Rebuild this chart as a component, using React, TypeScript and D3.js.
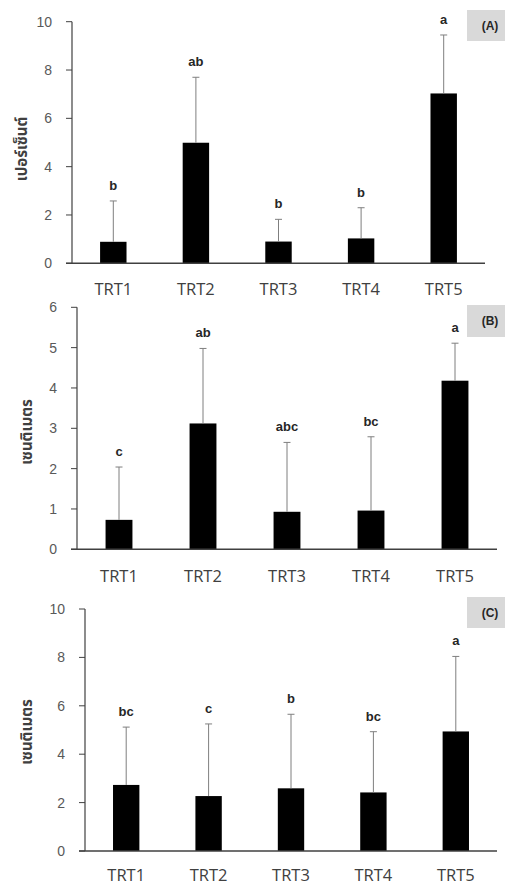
import { useEffect, useRef } from 'react';
import * as d3 from 'd3';

const categories = ['TRT1', 'TRT2', 'TRT3', 'TRT4', 'TRT5'];

const meansA = [0.89, 4.99, 0.9, 1.03, 7.03];
const errA = [1.69, 2.71, 0.92, 1.27, 2.42];
const lettersA = ['b', 'ab', 'b', 'b', 'a'];

const meansB = [0.73, 3.12, 0.93, 0.96, 4.18];
const errB = [1.31, 1.86, 1.72, 1.83, 0.93];
const lettersB = ['c', 'ab', 'abc', 'bc', 'a'];

const meansC = [2.73, 2.27, 2.59, 2.42, 4.94];
const errC = [2.39, 2.98, 3.06, 2.51, 3.1];
const lettersC = ['bc', 'c', 'b', 'bc', 'a'];

const ticksA = [0, 2, 4, 6, 8, 10];
const ticksB = [0, 1, 2, 3, 4, 5, 6];
const ticksC = [0, 2, 4, 6, 8, 10];

const titleA = 'เปอร์เซ็นต์';
const titleBC = 'เซนติเมตร';

// layout for each panel (pixel frame only)
const panels = [
  { tag: '(A)', means: meansA, err: errA, letters: lettersA, ticks: ticksA, max: 10, title: titleA,
    x0: 72, x1: 485, yTop: 21.7, yBot: 263.3, titleX: 22, titleY: 149, catDy: 26, box: [467, 10, 31] },
  { tag: '(B)', means: meansB, err: errB, letters: lettersB, ticks: ticksB, max: 6, title: titleBC,
    x0: 77, x1: 497, yTop: 307.3, yBot: 549.3, titleX: 27, titleY: 432, catDy: 27, box: [467, 305, 32] },
  { tag: '(C)', means: meansC, err: errC, letters: lettersC, ticks: ticksC, max: 10, title: titleBC,
    x0: 85, x1: 497, yTop: 609, yBot: 851, titleX: 27, titleY: 732, catDy: 24, box: [467, 597, 31] },
];

const App = () => {
  const ref = useRef<SVGSVGElement>(null);

  useEffect(() => {
    const svg = d3.select(ref.current);
    svg.selectAll('*').remove();

    panels.forEach(p => {
      const g = svg.append('g');
      const x = d3.scaleBand<string>()
        .domain(categories)
        .range([p.x0, p.x1])
        .paddingInner(0.68)
        .paddingOuter(0.34);
      const y = d3.scaleLinear().domain([0, p.max]).range([p.yBot, p.yTop]);

      const rows = categories.map((c, i) => ({ c, m: p.means[i], e: p.err[i], l: p.letters[i] }));

      // y axis
      g.append('line')
        .attr('x1', p.x0).attr('x2', p.x0)
        .attr('y1', p.yTop).attr('y2', p.yBot)
        .attr('stroke', '#404040').attr('stroke-width', 1.2);
      g.selectAll('.tick')
        .data(p.ticks)
        .enter()
        .append('line')
        .attr('x1', p.x0 - 6).attr('x2', p.x0)
        .attr('y1', d => y(d)).attr('y2', d => y(d))
        .attr('stroke', '#404040').attr('stroke-width', 1);
      g.selectAll('.ticklabel')
        .data(p.ticks)
        .enter()
        .append('text')
        .attr('x', p.x0 - 20)
        .attr('y', d => y(d))
        .attr('dy', '0.35em')
        .attr('text-anchor', 'end')
        .attr('font-family', 'Liberation Sans, Arial, sans-serif')
        .attr('font-size', 14)
        .attr('fill', '#595959')
        .text(d => d);

      // bars
      g.selectAll('.bar')
        .data(rows)
        .enter()
        .append('rect')
        .attr('x', d => x(d.c)!)
        .attr('width', x.bandwidth())
        .attr('y', d => y(d.m))
        .attr('height', d => p.yBot - y(d.m))
        .attr('fill', '#000');

      // error bars
      g.selectAll('.err')
        .data(rows)
        .enter()
        .append('path')
        .attr('d', d => {
          const cx = x(d.c)! + x.bandwidth() / 2;
          return `M${cx},${y(d.m)}V${y(d.m + d.e)}M${cx - 3.5},${y(d.m + d.e)}H${cx + 3.5}`;
        })
        .attr('stroke', '#7f7f7f')
        .attr('stroke-width', 1)
        .attr('fill', 'none');

      // significance letters
      g.selectAll('.letter')
        .data(rows)
        .enter()
        .append('text')
        .attr('x', d => x(d.c)! + x.bandwidth() / 2)
        .attr('y', d => y(d.m + d.e) - 11)
        .attr('text-anchor', 'middle')
        .attr('font-family', 'Liberation Sans, Arial, sans-serif')
        .attr('font-weight', 'bold')
        .attr('font-size', 13)
        .attr('fill', '#262626')
        .text(d => d.l);

      // x axis
      g.append('line')
        .attr('x1', p.x0 - 6).attr('x2', p.x1)
        .attr('y1', p.yBot).attr('y2', p.yBot)
        .attr('stroke', '#404040').attr('stroke-width', 1.4);
      g.selectAll('.cat')
        .data(categories)
        .enter()
        .append('text')
        .attr('x', d => x(d)! + x.bandwidth() / 2)
        .attr('y', p.yBot + p.catDy)
        .attr('dy', '0.35em')
        .attr('text-anchor', 'middle')
        .attr('font-family', 'Open Sans, sans-serif')
        .attr('font-size', 16.5)
        .attr('fill', '#404040')
        .text(d => d);

      // y title
      g.append('text')
        .attr('transform', `translate(${p.titleX},${p.titleY}) rotate(-90)`)
        .attr('text-anchor', 'middle')
        .attr('dy', '0.35em')
        .attr('font-family', 'Noto Sans Thai, Tahoma, sans-serif')
        .attr('font-weight', 'bold')
        .attr('font-size', 15)
        .attr('fill', '#404040')
        .text(p.title);

      // panel tag
      const [bx, by, bh] = p.box;
      g.append('rect')
        .attr('x', bx).attr('y', by)
        .attr('width', 505 - bx).attr('height', bh)
        .attr('fill', '#d9d9d9');
      g.append('text')
        .attr('x', bx + 23)
        .attr('y', by + bh / 2)
        .attr('dy', '0.35em')
        .attr('text-anchor', 'middle')
        .attr('font-family', 'Liberation Sans, Arial, sans-serif')
        .attr('font-weight', 'bold')
        .attr('font-size', 12)
        .attr('fill', '#262626')
        .text(p.tag);
    });
  }, []);

  return (
    <div style={{ position: 'absolute', left: 0, top: 0 }}>
      <svg ref={ref} width={505} height={886} style={{ display: 'block', background: '#fff' }} />
    </div>
  );
};

export default App;
